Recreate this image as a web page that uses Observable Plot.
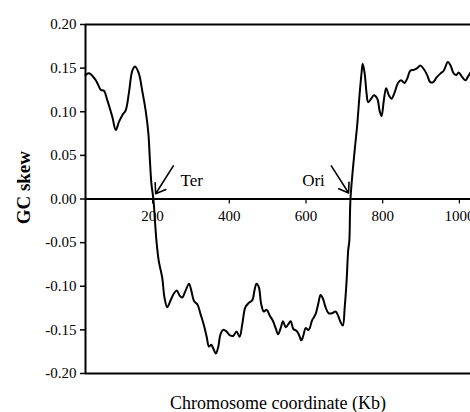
<!DOCTYPE html>
<html>
<head>
<meta charset="utf-8">
<script src="https://cdn.jsdelivr.net/npm/d3@7"></script>
<script src="https://cdn.jsdelivr.net/npm/@observablehq/plot@0.6"></script>
<style>
  html, body { margin: 0; padding: 0; background: #fff; }
  #chart svg { display: block; }
</style>
</head>
<body>
<div id="chart"></div>
<script>
// Chromosome coordinate (Kb)
const coord = [25,34,52,65,73,82,95,104,112,121,130,138,147,154,164,173,182,189,193,197,202,210,216,225,231,238,247,256,263,271,277,286,295,301,308,317,325,334,341,347,353,358,365,371,377,384,393,401,410,419,427,434,442,451,460,466,471,477,483,490,497,506,513,521,527,534,540,547,553,560,567,575,581,588,594,599,607,616,625,632,638,644,651,659,668,677,684,690,696,701,706,710,713,716,727,733,740,745,748,753,758,762,770,777,786,792,797,803,809,816,823,831,840,848,857,864,872,881,890,898,907,916,924,932,940,951,959,970,977,985,992,998,1007,1016,1022,1029];
// GC skew
const skew = [0.142,0.144,0.136,0.125,0.124,0.113,0.094,0.079,0.088,0.096,0.102,0.121,0.147,0.152,0.144,0.124,0.101,0.075,0.044,0.017,0.000,-0.048,-0.071,-0.090,-0.113,-0.124,-0.116,-0.108,-0.105,-0.111,-0.113,-0.105,-0.097,-0.105,-0.117,-0.121,-0.132,-0.145,-0.158,-0.169,-0.167,-0.171,-0.177,-0.170,-0.155,-0.150,-0.152,-0.156,-0.157,-0.152,-0.158,-0.143,-0.124,-0.119,-0.116,-0.104,-0.097,-0.101,-0.120,-0.129,-0.127,-0.134,-0.139,-0.148,-0.155,-0.148,-0.140,-0.147,-0.144,-0.140,-0.149,-0.151,-0.155,-0.162,-0.155,-0.148,-0.150,-0.139,-0.132,-0.120,-0.110,-0.114,-0.124,-0.131,-0.131,-0.129,-0.134,-0.141,-0.145,-0.124,-0.093,-0.059,-0.048,0.000,0.056,0.082,0.121,0.145,0.155,0.144,0.121,0.111,0.115,0.119,0.115,0.101,0.095,0.113,0.127,0.119,0.115,0.122,0.133,0.136,0.133,0.138,0.147,0.148,0.150,0.153,0.149,0.142,0.134,0.134,0.139,0.144,0.147,0.157,0.153,0.144,0.142,0.145,0.140,0.136,0.140,0.145];

const xTicks = [200, 400, 600, 800, 1000];
const yTicks = [-0.20, -0.15, -0.10, -0.05, 0.00, 0.05, 0.10, 0.15, 0.20];

// annotations: label, arrow tail, arrow tip, label position
const annLabels = ["Ter", "Ori"];
const annTailX = [254, 666];
const annTailY = [0.038, 0.038];
const annTipX = [208, 711];
const annTipY = [0.006, 0.007];
const annTextX = [273, 590];
const annTextY = [0.015, 0.015];

const data = coord.map((c, i) => ({c, v: skew[i]}));
const anns = annLabels.map((t, i) => ({t, x1: annTailX[i], y1: annTailY[i], x2: annTipX[i], y2: annTipY[i], tx: annTextX[i], ty: annTextY[i]}));

const font = "'Liberation Serif', 'Times New Roman', serif";
const xDomain = [25, 1029];

const chart = Plot.plot({
  width: 470,
  height: 412,
  marginLeft: 85,
  marginRight: 0,
  marginTop: 24,
  marginBottom: 39,
  style: {fontFamily: font, fontSize: "15px", color: "#000", background: "#fff"},
  x: {domain: xDomain},
  y: {domain: [-0.2, 0.2]},
  marks: [
    Plot.axisY({ticks: yTicks, tickSize: 5, tickPadding: 4, tickFormat: d => d.toFixed(2), label: null, fontSize: 15, strokeWidth: 1.5}),
    Plot.axisX({ticks: [], label: null, tickSize: 0}),
    Plot.ruleY([0.2, -0.2], {stroke: "#000", strokeWidth: 2}),
    Plot.ruleY([0], {stroke: "#000", strokeWidth: 2}),
    Plot.ruleX([xDomain[0]], {y1: -0.2, y2: 0.2, stroke: "#000", strokeWidth: 2}),
    Plot.ruleX(xTicks, {x: d => d, y1: 0, y2: 0, insetBottom: -5, stroke: "#000", strokeWidth: 1.2}),
    Plot.text(xTicks, {x: d => d, y: 0, dy: 17, text: d => String(d), fontSize: 15, fill: "#000"}),
    Plot.line(data, {x: "c", y: "v", stroke: "#000", strokeWidth: 2, curve: "catmull-rom"}),
    Plot.arrow(anns, {x1: "x1", y1: "y1", x2: "x2", y2: "y2", stroke: "#000", strokeWidth: 1.6, headLength: 11, headAngle: 70}),
    Plot.text(anns, {x: "tx", y: "ty", text: "t", textAnchor: "start", lineAnchor: "bottom", fontSize: 17, fill: "#000"}),
    Plot.text(["GC skew"], {x: xDomain[0], y: 0.013, dx: -62, rotate: -90, fontSize: 19, fontWeight: "bold", fill: "#000"}),
    Plot.text(["Chromosome coordinate (Kb)"], {frameAnchor: "bottom", dy: 30, lineAnchor: "middle", fontSize: 18, fill: "#000"})
  ]
});
document.getElementById("chart").appendChild(chart);
</script>
</body>
</html>
